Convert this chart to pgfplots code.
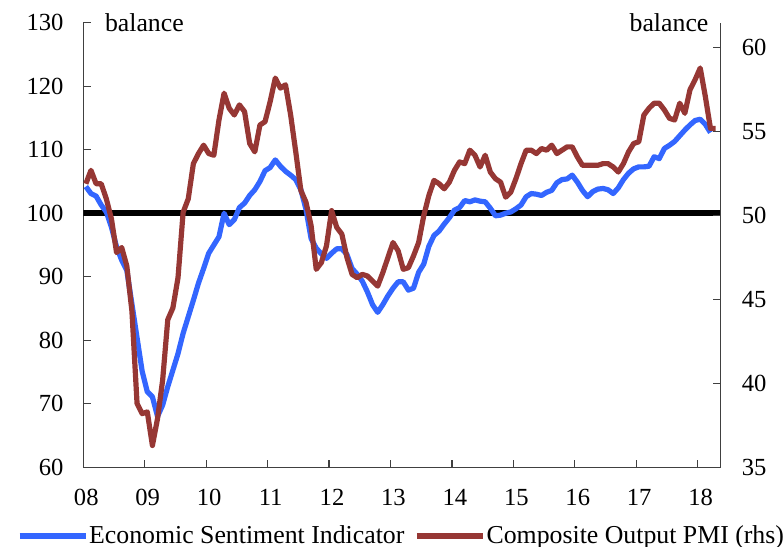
\documentclass[border=0pt]{standalone}
\usepackage{pgfplots}
\pgfplotsset{compat=1.18}
\usepackage{pgfplotstable}
\usepackage{fontspec}
\setmainfont{Liberation Serif}
\definecolor{esiblue}{RGB}{51,102,255}
\definecolor{pmired}{RGB}{150,55,52}
\definecolor{axgray}{RGB}{64,64,64}

% Economic Sentiment Indicator, monthly from Jan 2008 (m = months since Jan 2008)
\pgfplotstableread{
m v
0 104.2
1 103.1
2 102.7
3 101.3
4 100.2
5 97.8
6 94.7
7 92.6
8 91.0
9 85.7
10 80.4
11 75.1
12 71.9
13 71.1
14 68.0
15 69.8
16 72.7
17 75.3
18 77.9
19 81.1
20 83.7
21 86.3
22 89.0
23 91.3
24 93.7
25 95.0
26 96.3
27 100.0
28 98.2
29 99.0
30 100.9
31 101.6
32 102.8
33 103.7
34 105.0
35 106.7
36 107.2
37 108.4
38 107.4
39 106.6
40 106.0
41 105.3
42 103.7
43 100.6
44 96.0
45 94.5
46 93.6
47 92.9
48 93.7
49 94.4
50 94.4
51 93.5
52 91.3
53 90.4
54 89.3
55 87.6
56 85.6
57 84.4
58 85.6
59 87.0
60 88.2
61 89.2
62 89.2
63 87.9
64 88.2
65 90.7
66 92.0
67 94.8
68 96.5
69 97.2
70 98.3
71 99.3
72 100.5
73 100.9
74 102.0
75 101.8
76 102.1
77 101.9
78 101.8
79 100.8
80 99.6
81 99.7
82 100.0
83 100.2
84 100.7
85 101.3
86 102.6
87 103.1
88 103.0
89 102.8
90 103.3
91 103.6
92 104.8
93 105.3
94 105.4
95 106.0
96 104.9
97 103.6
98 102.6
99 103.4
100 103.8
101 103.9
102 103.7
103 103.1
104 104.0
105 105.3
106 106.3
107 107.0
108 107.3
109 107.3
110 107.4
111 108.9
112 108.6
113 110.2
114 110.7
115 111.3
116 112.2
117 113.1
118 113.9
119 114.6
120 114.8
121 114.0
122 112.7
}\esi

% Composite Output PMI (rhs)
\pgfplotstableread{
m v
0 51.9
1 52.7
2 51.9
3 51.9
4 51.0
5 49.8
6 47.8
7 48.1
8 47.0
9 44.3
10 38.8
11 38.2
12 38.3
13 36.3
14 37.9
15 40.2
16 43.8
17 44.5
18 46.3
19 50.2
20 51.0
21 53.1
22 53.7
23 54.2
24 53.7
25 53.6
26 55.7
27 57.3
28 56.4
29 56.0
30 56.6
31 56.2
32 54.3
33 53.8
34 55.4
35 55.6
36 56.8
37 58.2
38 57.6
39 57.8
40 56.0
41 53.8
42 51.5
43 50.8
44 49.4
45 46.8
46 47.2
47 48.2
48 50.3
49 49.3
50 48.9
51 47.5
52 46.5
53 46.3
54 46.5
55 46.4
56 46.1
57 45.8
58 46.6
59 47.5
60 48.4
61 47.9
62 46.8
63 46.9
64 47.6
65 48.4
66 50.0
67 51.2
68 52.1
69 51.9
70 51.6
71 52.0
72 52.7
73 53.2
74 53.1
75 53.9
76 53.6
77 52.9
78 53.6
79 52.6
80 52.2
81 52.0
82 51.1
83 51.4
84 52.2
85 53.1
86 53.9
87 53.9
88 53.7
89 54.0
90 53.9
91 54.2
92 53.7
93 53.9
94 54.1
95 54.1
96 53.5
97 53.0
98 53.0
99 53.0
100 53.0
101 53.1
102 53.1
103 52.9
104 52.6
105 53.1
106 53.8
107 54.3
108 54.4
109 56.0
110 56.4
111 56.7
112 56.7
113 56.3
114 55.8
115 55.7
116 56.7
117 56.1
118 57.5
119 58.1
120 58.8
121 57.1
122 55.2
123 55.2
}\pmi

\begin{document}
\begin{tikzpicture}
\useasboundingbox (0,0) rectangle (392pt,273.5pt);
\pgfplotsset{
  common/.style={
    at={(41.65pt,39.85pt)}, anchor=south west,
    width=318.7pt, height=222.3pt, scale only axis,
    xmin=0, xmax=124.5,
    tick align=inside, major tick length=3.75pt,
    every tick/.style={axgray, line width=0.6pt},
    axis line style={axgray, line width=0.6pt},
    tick label style={font=\fontsize{12.3}{14}\selectfont},
    /pgf/number format/assume math mode=true,
  }
}
\begin{axis}[common,
  ymin=60, ymax=130, ytick={60,70,...,130},
  axis y line*=left, axis x line*=bottom,
  xtick={0,12,...,120},
  xticklabels={08,09,10,11,12,13,14,15,16,17,18},
  yticklabel style={xshift=-6.4pt},
  xticklabel style={yshift=-7.3pt, xshift=1.5pt},
]
\addplot[black, line width=3pt, forget plot] coordinates {(0,100) (124.5,100)};
\addplot[esiblue, line width=2.6pt, line join=round] table[x expr=\thisrow{m}+0.5, y=v] {\esi};
\end{axis}
\begin{axis}[common,
  ymin=35, ymax=61.5, ytick={35,40,...,60},
  axis y line*=right, axis x line=none,
  yticklabel style={xshift=7pt},
  legend columns=2,
  legend image code/.code={\draw[#1] (0pt,0pt) -- (33pt,0pt);},
  legend style={at={(-0.1041,-0.1545)}, anchor=west, draw=none, fill=none,
    inner sep=0pt, outer sep=0pt, font=\fontsize{12.9}{15}\selectfont,
    nodes={inner sep=0pt},
    /tikz/every odd column/.append style={column sep=0.5pt},
    /tikz/every even column/.append style={column sep=5pt}},
]
\addlegendimage{esiblue, line width=2.6pt}
\addlegendentry{Economic Sentiment Indicator}
\addplot[pmired, line width=2.6pt, line join=round] table[x expr=\thisrow{m}+0.5, y=v] {\pmi};
\addlegendentry{Composite Output PMI (rhs)}
\end{axis}
\node[anchor=base west, inner sep=0pt, font=\fontsize{12.9}{15}\selectfont] at (52.3pt,257.65pt) {balance};
\node[anchor=base east, inner sep=0pt, font=\fontsize{12.9}{15}\selectfont] at (354.4pt,257.65pt) {balance};
\end{tikzpicture}
\end{document}
